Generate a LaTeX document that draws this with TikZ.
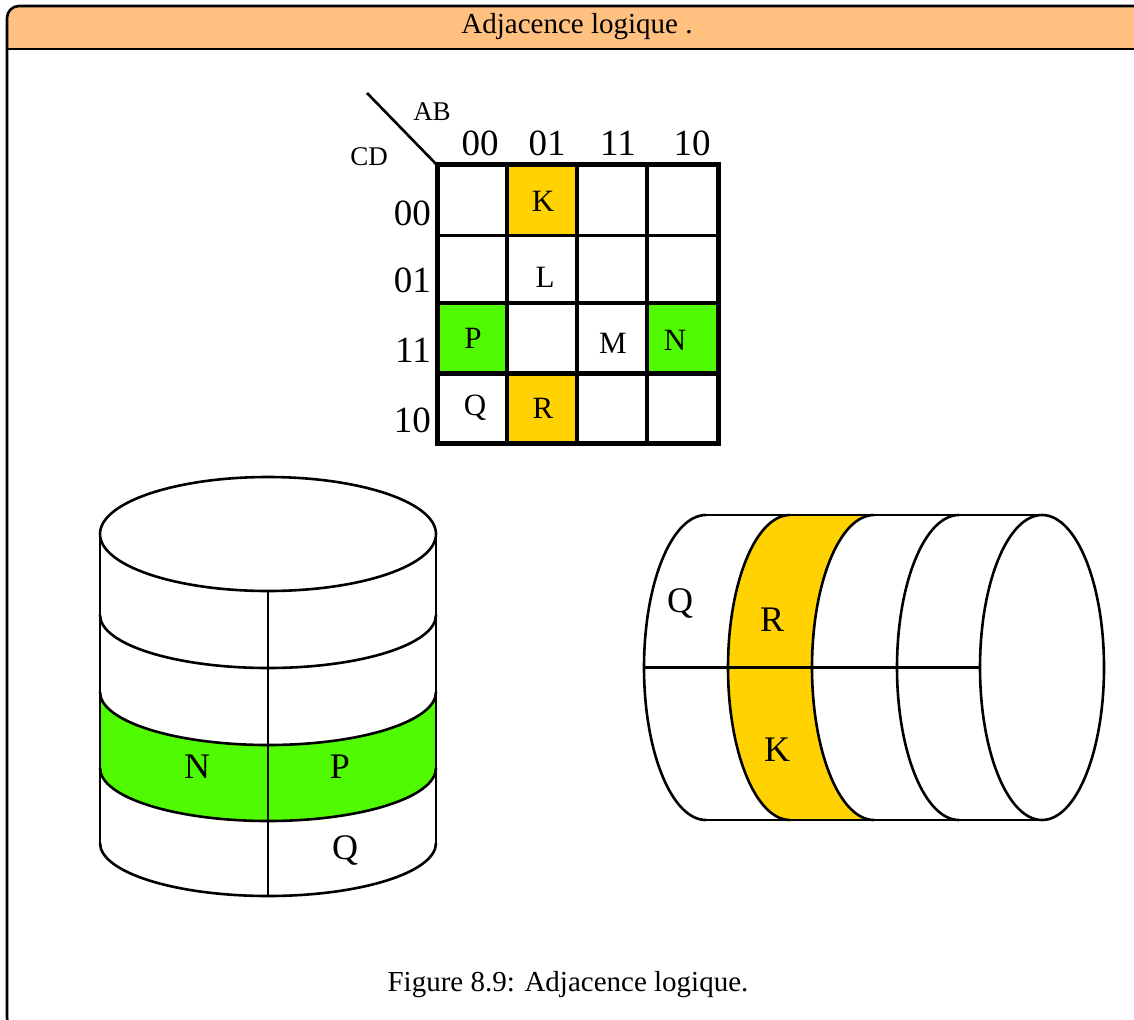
\documentclass[tikz,border=0pt]{standalone}
\usepackage{fontspec}
\setmainfont{Liberation Serif}
\usepackage{tikz}
\definecolor{titlebg}{RGB}{255,192,128}
\definecolor{kgold}{RGB}{255,210,0}
\definecolor{kgreen}{RGB}{80,250,0}
\tikzstyle{mybox} = [draw=black, line width=2.6pt, rounded corners=12pt]
\tikzstyle{fancytitle} =[font=\fontsize{29}{34}\selectfont, inner sep=0pt]
\tikzstyle{kdigit} = [font=\fontsize{37}{40}\selectfont, inner sep=0pt]
\tikzstyle{kletter} = [font=\fontsize{31}{34}\selectfont, inner sep=0pt]
\tikzstyle{cylletter} = [font=\fontsize{36}{40}\selectfont, inner sep=0pt]
\tikzstyle{kvar} = [font=\fontsize{27}{30}\selectfont, inner sep=0pt]
\tikzstyle{cyl} = [line width=2.6pt]

\begin{document}
\begin{tikzpicture}[x=1pt,y=1pt]
                \useasboundingbox (0,0) rectangle (1134,-1019);
                \fill[titlebg] (7,-49) [rounded corners=12pt] -- (7,-6) -- (1150,-6) [sharp corners] -- (1150,-49) -- cycle;
                \draw[mybox] (7,-6) rectangle (1150,-1030);
                \draw[line width=2.6pt] (7,-49) -- (1150,-49);
                \node[fancytitle] (title) at (577,-27) {Adjacence logique .};

                \fill[kgold] (507,-165) rectangle (577,-235);
                \fill[kgold] (507,-373) rectangle (577,-443);
                \fill[kgreen] (437,-303) rectangle (507,-373);
                \fill[kgreen] (647,-303) rectangle (718,-373);
                \foreach \x in {507,577,647}
                    \draw[line width=3.5pt] (\x,-165) -- (\x,-443);
                \draw[line width=3pt] (437,-235) -- (718,-235);
                \draw[line width=4pt] (437,-303) -- (718,-303);
                \draw[line width=5pt] (437,-373) -- (718,-373);
                \draw[line width=5pt] (437,-165) rectangle (718,-443);
                \coordinate (corner) at (437,-165);
                \draw[line width=2.6pt] (corner) -- ++(-70,72);
                \node[kvar] (ab) at (432,-112) {AB};
                \node[kvar] (cd) at (369,-157) {CD};
                \foreach \lab/\x in {00/480,01/547,11/618,10/692}
                    \node[kdigit] (col\lab) at (\x,-143) {\lab};
                \foreach \lab/\y in {00/213,01/280,11/350,10/420}
                    \node[kdigit, anchor=east] (row\lab) at (431,-\y) {\lab};
                \node[kletter] (mK) at (543,-201) {K};
                \node[kletter] (mL) at (545,-277) {L};
                \node[kletter] (mP) at (473,-338) {P};
                \node[kletter] (mM) at (613,-343) {M};
                \node[kletter] (mN) at (675,-340) {N};
                \node[kletter] (mQ) at (475,-408) {Q};
                \node[kletter] (mR) at (543,-408) {R};

                \fill[kgreen] (100,-692) arc[start angle=180, end angle=360, x radius=168, y radius=53]
                    -- (436,-768) arc[start angle=0, end angle=-180, x radius=168, y radius=53] -- cycle;
                \draw[cyl] (268,-534) ellipse[x radius=168, y radius=57];
                \draw[cyl] (100,-534) -- (100,-843);
                \draw[cyl] (436,-534) -- (436,-843);
                \foreach \c in {615,692,768,843}
                    \draw[cyl] (100,-\c) arc[start angle=180, end angle=360, x radius=168, y radius=53];
                \draw[cyl] (268,-591) -- (268,-896);
                \node[cylletter] (vN) at (197,-767) {N};
                \node[cylletter] (vP) at (340,-767) {P};
                \node[cylletter] (vQ) at (345,-850) {Q};

                \fill[kgold] (790,-515) arc[start angle=90, end angle=270, x radius=62, y radius=152.5]
                    -- (874,-820) arc[start angle=270, end angle=90, x radius=62, y radius=152.5] -- cycle;
                \draw[cyl] (706,-515) -- (1042,-515);
                \draw[cyl] (706,-820) -- (1042,-820);
                \draw[cyl] (644,-667.5) -- (980,-667.5);
                \foreach \c in {706,790,874,959}
                    \draw[cyl] (\c,-515) arc[start angle=90, end angle=270, x radius=62, y radius=152.5];
                \draw[cyl] (1042,-667.5) ellipse[x radius=62, y radius=152.5];
                \node[cylletter] (hQ) at (680,-603) {Q};
                \node[cylletter] (hR) at (772,-620) {R};
                \node[cylletter] (hK) at (777,-750) {K};

                \node[fancytitle] (caption) at (568,-985) {Figure 8.9: Adjacence logique.};
            \end{tikzpicture}
\end{document}
